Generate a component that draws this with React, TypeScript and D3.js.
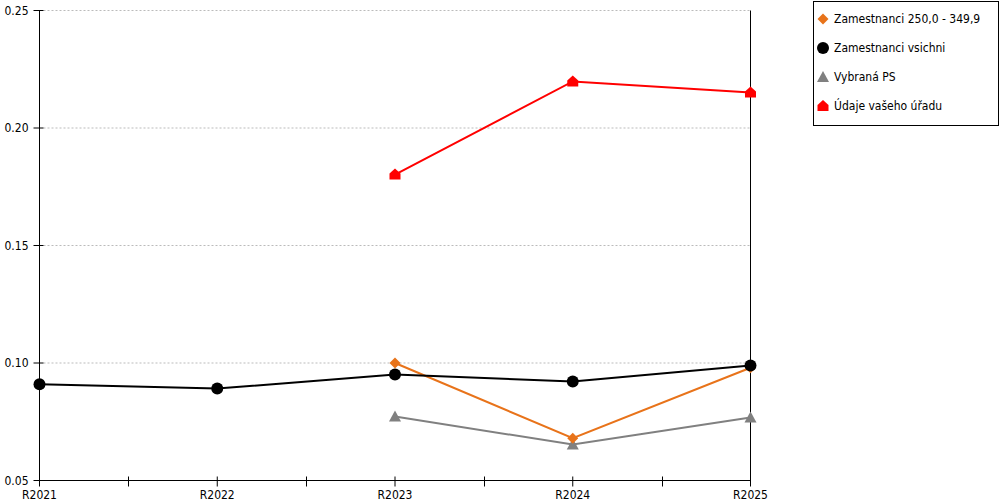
import React from 'react';
import * as d3 from 'd3';

const years = ['R2021', 'R2022', 'R2023', 'R2024', 'R2025'];
const yTicks = [0.05, 0.1, 0.15, 0.2, 0.25];

const orangeVals: (number | null)[] = [null, null, 0.1, 0.068, 0.098];
const blackVals: (number | null)[] = [0.091, 0.0891, 0.0951, 0.0921, 0.0989];
const grayVals: (number | null)[] = [null, null, 0.0772, 0.0653, 0.0768];
const redVals: (number | null)[] = [null, null, 0.1802, 0.2198, 0.2151];

const seriesNames = ['Zamestnanci 250,0 - 349,9', 'Zamestnanci vsichni', 'Vybraná PS', 'Údaje vašeho úřadu'];
const seriesColors = ['#e8731a', '#000000', '#808080', '#ff0000'];
const seriesShapes = ['diamond', 'circle', 'triangle', 'house'];

const W = 1000;
const H = 500;
const left = 39.5;
const right = 750.5;
const top = 10.5;
const bottom = 480.5;
const font = '"DejaVu Sans Condensed", "DejaVu Sans", sans-serif';

function marker(shape: string, x: number, y: number, color: string, key: string) {
  if (shape === 'circle') return <circle key={key} cx={x} cy={y} r={6} fill={color} />;
  if (shape === 'diamond')
    return <path key={key} d={`M${x},${y - 5.5}L${x + 5.5},${y}L${x},${y + 5.5}L${x - 5.5},${y}Z`} fill={color} />;
  if (shape === 'triangle')
    return <path key={key} d={`M${x},${y - 6}L${x + 6},${y + 5}L${x - 6},${y + 5}Z`} fill={color} />;
  return (
    <path key={key} d={`M${x},${y - 6}L${x + 5.5},${y - 1}L${x + 5.5},${y + 5}L${x - 5.5},${y + 5}L${x - 5.5},${y - 1}Z`} fill={color} />
  );
}

const App = () => {
  const x = d3.scalePoint<string>().domain(years).range([left, right]);
  const y = d3.scaleLinear().domain([0.05, 0.25]).range([bottom, top]);
  const allSeries = [orangeVals, blackVals, grayVals, redVals];

  const line = d3
    .line<number | null>()
    .defined((d) => d != null)
    .x((_, i) => x(years[i]) as number)
    .y((d) => y(d as number));

  // ticks at categories plus midpoints between them
  const xTickPos: number[] = [];
  years.forEach((yr, i) => {
    xTickPos.push(x(yr) as number);
    if (i < years.length - 1) xTickPos.push(Math.round(((x(yr) as number) + (x(years[i + 1]) as number)) / 2) + 0.5);
  });

  // draw order: gray, orange, black, red
  const order = [2, 0, 1, 3];

  return (
    <svg width={W} height={H} style={{ position: 'absolute', left: 0, top: 0 }} fontFamily={font}>
      <rect width={W} height={H} fill="#fff" />
      {yTicks.slice(1).map((t) => (
        <line key={t} x1={left + 4} x2={right - 1} y1={y(t)} y2={y(t)} stroke="#bbb" strokeDasharray="2,2" />
      ))}
      <line x1={left} x2={left} y1={top} y2={bottom} stroke="#000" />
      <line x1={right} x2={right} y1={top} y2={bottom} stroke="#000" />
      <line x1={left} x2={right} y1={bottom} y2={bottom} stroke="#000" />
      {yTicks.map((t) => (
        <g key={t}>
          <line x1={left - 6} x2={left + 4} y1={y(t)} y2={y(t)} stroke="#000" />
          <text x={left - 11} y={y(t) + 4} fontSize={12} textAnchor="end" fill="#000">
            {t.toFixed(2)}
          </text>
        </g>
      ))}
      {xTickPos.map((p, i) => (
        <line key={i} x1={p} x2={p} y1={bottom - 4} y2={bottom + 6} stroke="#000" />
      ))}
      {years.map((yr) => (
        <text key={yr} x={x(yr)} y={bottom + 18} fontSize={12} textAnchor="middle" fill="#000">
          {yr}
        </text>
      ))}
      {order.map((si) => (
        <g key={si}>
          <path d={line(allSeries[si]) || ''} fill="none" stroke={seriesColors[si]} strokeWidth={2} />
          {allSeries[si].map((v, i) =>
            v == null ? null : marker(seriesShapes[si], x(years[i]) as number, y(v), seriesColors[si], `${si}-${i}`)
          )}
        </g>
      ))}
      <rect x={813.5} y={1.5} width={185} height={124} fill="#fff" stroke="#000" />
      {seriesNames.map((n, i) => (
        <g key={n}>
          {marker(seriesShapes[i], 823, 19 + i * 29, seriesColors[i], `l${i}`)}
          <text x={834} y={23 + i * 29} fontSize={12} fill="#000">
            {n}
          </text>
        </g>
      ))}
    </svg>
  );
};

export default App;
